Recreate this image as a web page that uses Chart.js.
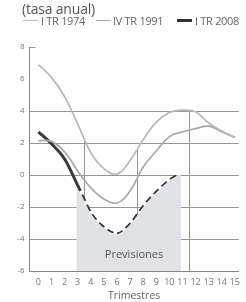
<!DOCTYPE html>
<html lang="es">
<head>
    <meta charset="UTF-8">
    <title>Previsiones (tasa anual)</title>
    <script src="https://cdn.jsdelivr.net/npm/chart.js"></script>
    <style>
        html, body { margin: 0; padding: 0; background: #fff; }
        body { width: 246px; height: 302px; position: relative; overflow: hidden;
               font-family: "Open Sans", "Noto Sans", sans-serif; }
        #title { position: absolute; left: 22px; top: -1px; font-size: 14px; color: #555; letter-spacing: -0.2px; }
        #legend { position: absolute; left: 0; top: 13px; width: 260px; height: 14px; font-size: 11px; color: #666;
                  white-space: nowrap; letter-spacing: -0.3px; }
        #legend span { position: absolute; top: 0; }
        #legend span.k { top: 7px; width: 15px; }
        #chartBox { position: absolute; left: 0; top: 0; width: 246px; height: 302px; }
    </style>
</head>
<body>
    <div id="chartBox"><canvas id="chart" width="246" height="302"></canvas></div>
    <div id="title">(tasa anual)</div>
    <div id="legend">
        <span class="k" style="left:23px;border-top:1.5px solid #bdbdbd"></span><span style="left:41px">I TR 1974</span>
        <span class="k" style="left:96px;border-top:1.5px solid #a8a8a8"></span><span style="left:113px">IV TR 1991</span>
        <span class="k" style="left:177px;border-top:3px solid #333;top:6px"></span><span style="left:195px">I TR 2008</span>
    </div>

    <script>
        // quarters since the start of each episode
        const quarters = [0, 1, 2, 3, 4, 5, 6, 7, 8, 9, 10, 11, 12, 13, 14, 15];
        const tr1974 = [6.9, 6.1, 4.9, 3.2, 1.4, 0.4, 0.05, 0.9, 2.2, 3.3, 3.9, 4.05, 3.95, 3.25, 2.75, 2.35];
        const tr1991 = [2.15, 2.1, 1.45, 0.25, -0.8, -1.5, -1.75, -1.0, 0.5, 1.5, 2.4, 2.7, 2.9, 3.05, 2.7, 2.35];

        // 2008: observed part and forecast part
        const actualQ = [0, 1, 2, 3, 3.2];
        const actual2008 = [2.7, 1.95, 1.0, -0.65, -1.0];
        const forecastQ = [3.3, 4, 5, 6, 7, 8, 9, 10, 10.6];
        const forecast2008 = [-1.25, -2.4, -3.3, -3.7, -3.1, -2.0, -1.1, -0.35, -0.05];

        // shaded forecast window
        const shadeQ = [2.9, 3.3, 4, 5, 6, 7, 8, 9, 10, 10.6, 10.9];
        const shadeTop = [-0.8, -1.25, -2.4, -3.3, -3.7, -3.1, -2.0, -1.1, -0.35, -0.05, 0.1];

        const yTicks = [-6, -4, -2, 0, 2, 4, 6, 8];
        const dividers = [3.5, 7.5, 11.5];
        const forecastLabel = 'Previsiones';

        const pts = (xs, ys) => xs.map((x, i) => ({ x: x, y: ys[i] }));

        // value of the 1974 curve at a fractional quarter (dividers stop at it)
        function at1974(q) {
            const i = Math.floor(q);
            return tr1974[i] + (tr1974[i + 1] - tr1974[i]) * (q - i);
        }

        // vertical dividers, the small tick at the top of the y axis, the forecast label
        const extras = {
            id: 'extras',
            beforeDatasetsDraw(chart) {
                const { ctx, chartArea, scales } = chart;
                ctx.save();
                ctx.strokeStyle = '#9a948e';
                ctx.lineWidth = 1;
                dividers.forEach(v => {
                    const x = Math.round(scales.x.getPixelForValue(v)) + 0.5;
                    ctx.beginPath();
                    ctx.moveTo(x, scales.y.getPixelForValue(at1974(v)));
                    ctx.lineTo(x, chartArea.bottom);
                    ctx.stroke();
                });
                const yTop = Math.round(scales.y.getPixelForValue(8)) + 0.5;
                ctx.beginPath();
                ctx.moveTo(chartArea.left, yTop);
                ctx.lineTo(chartArea.left + 6, yTop);
                ctx.stroke();
                ctx.restore();
            },
            afterDatasetsDraw(chart) {
                const { ctx, scales } = chart;
                ctx.save();
                ctx.fillStyle = '#555';
                ctx.font = '11px "Open Sans", "Noto Sans", sans-serif';
                ctx.textAlign = 'center';
                ctx.textBaseline = 'middle';
                ctx.fillText(forecastLabel, scales.x.getPixelForValue(7.3), scales.y.getPixelForValue(-5));
                ctx.restore();
            }
        };

        new Chart(document.getElementById('chart'), {
            type: 'line',
            data: {
                datasets: [
                    {
                        label: 'shade',
                        data: pts(shadeQ, shadeTop),
                        borderWidth: 0,
                        pointRadius: 0,
                        backgroundColor: '#e1e2e8',
                        fill: 'start',
                        tension: 0.3
                    },
                    {
                        label: 'I TR 1974',
                        data: pts(quarters, tr1974),
                        borderColor: '#b8b8b8',
                        borderWidth: 1.7,
                        pointRadius: 0,
                        fill: false,
                        tension: 0.4
                    },
                    {
                        label: 'IV TR 1991',
                        data: pts(quarters, tr1991),
                        borderColor: '#a8a8a8',
                        borderWidth: 1.7,
                        pointRadius: 0,
                        fill: false,
                        tension: 0.4
                    },
                    {
                        label: 'I TR 2008',
                        data: pts(actualQ, actual2008),
                        borderColor: '#3a3a3a',
                        borderWidth: 3,
                        pointRadius: 0,
                        fill: false,
                        cubicInterpolationMode: 'monotone'
                    },
                    {
                        label: 'I TR 2008 previsión',
                        data: pts(forecastQ, forecast2008),
                        borderColor: '#333',
                        borderWidth: 3.5,
                        borderDash: [7, 4],
                        pointRadius: 0,
                        fill: false,
                        cubicInterpolationMode: 'monotone'
                    }
                ]
            },
            options: {
                responsive: false,
                animation: false,
                layout: { padding: { top: 47, left: 0, right: 0, bottom: 0 } },
                plugins: { legend: { display: false }, tooltip: { enabled: false } },
                scales: {
                    x: {
                        type: 'linear',
                        min: -0.68,
                        max: 15.3,
                        afterBuildTicks: s => { s.ticks = quarters.map(v => ({ value: v })); },
                        afterFit: s => { s.height = 31; },
                        grid: { display: false, drawTicks: false },
                        border: { display: true, color: '#8a8580' },
                        ticks: {
                            autoSkip: false,
                            maxRotation: 0,
                            padding: 6,
                            color: '#777',
                            font: { size: 9, family: '"Open Sans", "Noto Sans", sans-serif' }
                        },
                        title: {
                            display: true,
                            text: 'Trimestres',
                            color: '#666',
                            padding: { top: 0, bottom: 0 },
                            font: { size: 10.5, family: '"Open Sans", "Noto Sans", sans-serif' }
                        }
                    },
                    y: {
                        min: -6,
                        max: 8,
                        afterBuildTicks: s => { s.ticks = yTicks.map(v => ({ value: v })); },
                        afterFit: s => { s.width = 29.5; },
                        grid: {
                            drawTicks: false,
                            color: c => (c.tick.value >= 6 || c.tick.value <= -6) ? 'rgba(0,0,0,0)' : '#9a948e',
                            lineWidth: 1
                        },
                        border: { display: true, color: '#8a8580' },
                        ticks: {
                            padding: 5,
                            color: '#777',
                            font: { size: 8, family: '"Open Sans", "Noto Sans", sans-serif' }
                        }
                    }
                }
            },
            plugins: [extras]
        });
    </script>
</body>
</html>
